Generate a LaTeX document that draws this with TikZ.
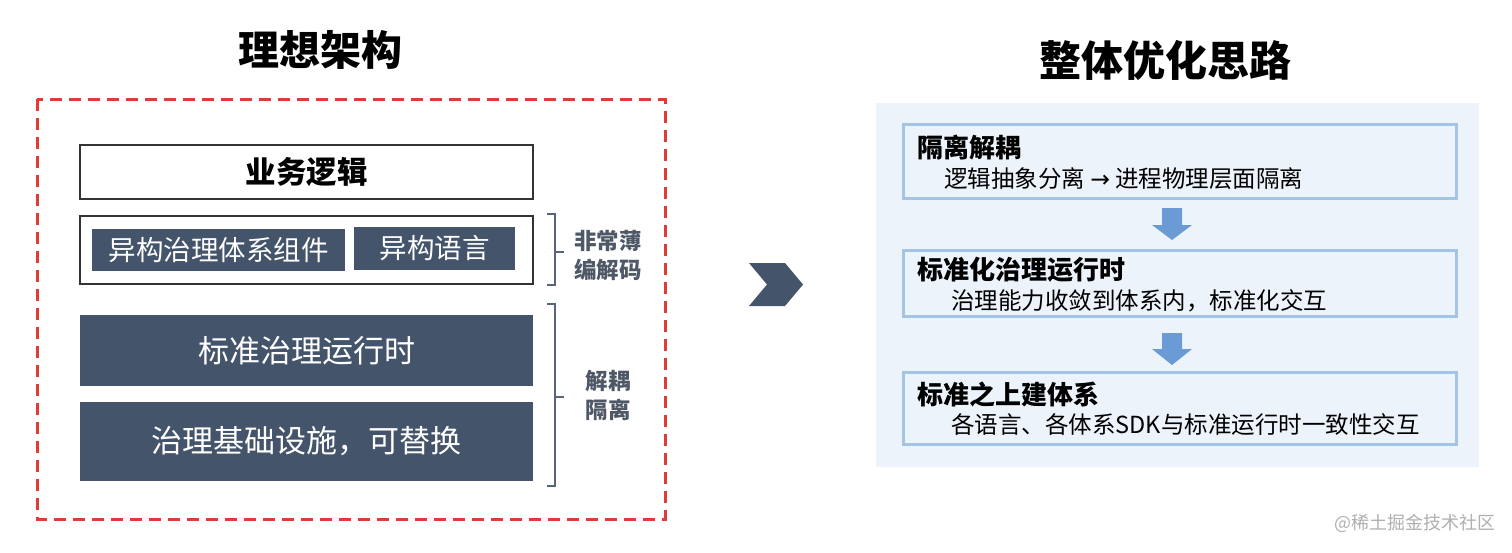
\documentclass[tikz,border=0pt]{standalone}
\usepackage{fontspec}
\setmainfont{Noto Sans CJK SC}
\newfontfamily\arrowfont{DejaVu Sans}
\definecolor{dashred}{RGB}{222,60,52}
\definecolor{slate}{RGB}{68,84,106}
\definecolor{labgray}{RGB}{78,88,102}
\definecolor{panelbg}{RGB}{237,243,250}
\definecolor{boxline}{RGB}{163,196,228}
\definecolor{arrowblue}{RGB}{106,155,212}
\definecolor{wmgray}{RGB}{175,175,175}
\begin{document}
\begin{tikzpicture}[x=1pt,y=-1pt,
  title/.style={font=\fontsize{41}{45}\selectfont\bfseries, inner sep=0},
  whitebox/.style={draw=black!80, line width=1.5pt, fill=white, inner sep=0},
  darkbox/.style={fill=slate, text=white, inner sep=0},
  sidelab/.style={font=\fontsize{22.5}{29}\selectfont\bfseries, text=labgray, align=center, inner sep=0},
  brace/.style={draw=slate!90, line width=2.5pt},
  stepbox/.style={draw=boxline, line width=3pt, fill=panelbg, inner sep=0},
  steptitle/.style={font=\fontsize{26}{30}\selectfont\bfseries, anchor=west, inner sep=0},
  stepsub/.style={font=\fontsize{23.5}{27}\selectfont, anchor=west, inner sep=0},
  flowarrow/.style={fill=arrowblue}
]
\useasboundingbox (0,0) rectangle (1512,552);
\fill[white] (0,0) rectangle (1512,552);

% titles
\node[title] (t1) at (320,50) {理想架构};
\node[title, font=\fontsize{42}{46}\selectfont\bfseries] (t2) at (1165,60) {整体优化思路};

% left frame
\draw[dashred, line width=3pt, dash pattern=on 12pt off 7pt] (37,99) rectangle (665,519);

\node[whitebox, minimum width=453pt, minimum height=54pt, font=\fontsize{30.5}{34}\selectfont\bfseries] (biz) at (306.5,172) {业务逻辑};
\node[whitebox, minimum width=453pt, minimum height=68pt] (codec) at (306.5,250) {};
\node[darkbox, minimum width=253pt, minimum height=42pt, font=\fontsize{27.5}{31}\selectfont] (comp) at (218.5,250) {异构治理体系组件};
\node[darkbox, minimum width=161pt, minimum height=43pt, font=\fontsize{27.5}{31}\selectfont] (lang) at (434.5,248.5) {异构语言};
\node[darkbox, minimum width=453pt, minimum height=71pt, font=\fontsize{31}{35}\selectfont] (rt) at (306.5,350.5) {标准治理运行时};
\node[darkbox, minimum width=453pt, minimum height=79pt, font=\fontsize{31}{36}\selectfont] (infra) at (306.5,441.5) {治理基础设施，可替换};

% braces
\draw[brace] (547,214) -- (555,214) -- (555,285) -- (547,285);
\draw[brace] (555,252) -- (564,252);
\draw[brace] (547,304) -- (555,304) -- (555,486) -- (547,486);
\draw[brace] (555,397) -- (564,397);
\node[sidelab] (lab1) at (608,255) {非常薄\\编解码};
\node[sidelab] (lab2) at (608,395) {解耦\\隔离};

% chevron
\fill[slate] (749,263) -- (785,263) -- (803,284.5) -- (785,306) -- (749,306) -- (767,284.5) -- cycle;

% right panel
\fill[panelbg] (876,103) rectangle (1479,467);
\node[stepbox, minimum width=553pt, minimum height=74pt] (s1) at (1179.5,161) {};
\node[stepbox, minimum width=553pt, minimum height=66pt] (s2) at (1179.5,283) {};
\node[stepbox, minimum width=553pt, minimum height=72pt] (s3) at (1179.5,408) {};

\node[steptitle] (s1t) at (917,148) {隔离解耦};
\node[stepsub] (s1s) at (944,179) {逻辑抽象分离 {\arrowfont →} 进程物理层面隔离};
\node[steptitle] (s2t) at (917,270) {标准化治理运行时};
\node[stepsub] (s2s) at (951,301) {治理能力收敛到体系内，标准化交互};
\node[steptitle] (s3t) at (917,394) {标准之上建体系};
\node[stepsub] (s3s) at (951,425) {各语言、各体系SDK与标准运行时一致性交互};

% flow arrows
\fill[flowarrow] (1162,208) -- (1182,208) -- (1182,225) -- (1192,225) -- (1172,240) -- (1152,225) -- (1162,225) -- cycle;
\fill[flowarrow] (1162,333) -- (1182,333) -- (1182,349) -- (1192,349) -- (1172,365) -- (1152,349) -- (1162,349) -- cycle;

% watermark
\node[font=\fontsize{18}{21}\selectfont, text=wmgray, anchor=east, inner sep=0] (wm) at (1496,523) {@稀土掘金技术社区};
\end{tikzpicture}
\end{document}
